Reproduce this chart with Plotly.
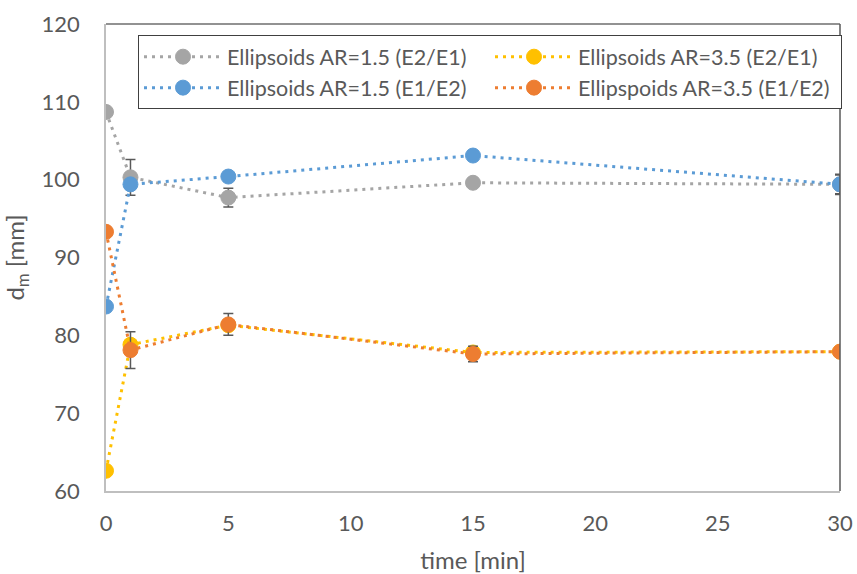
import plotly.graph_objects as go

# time points [min]
time_min = [0, 1, 5, 15, 30]

# mean diameter d_m [mm] per series
ar15_e2e1 = [108.7, 100.3, 97.7, 99.6, 99.4]
ar15_e1e2 = [83.7, 99.4, 100.4, 103.1, 99.4]
ar35_e2e1 = [62.6, 78.8, 81.3, 77.8, 77.9]
ar35_e1e2 = [93.3, 78.1, 81.4, 77.6, 77.9]

# standard deviations
err_ar15_e2e1 = [0.0, 2.3, 1.2, 0.4, 1.2]
err_ar15_e1e2 = [0.0, 0.5, 0.5, 0.5, 1.3]
err_ar35_e2e1 = [0.0, 0.5, 0.5, 0.5, 0.5]
err_ar35_e1e2 = [0.0, 2.35, 1.4, 1.0, 0.5]

names = [
    "Ellipsoids AR=1.5 (E2/E1)",
    "Ellipsoids AR=3.5 (E2/E1)",
    "Ellipsoids AR=1.5 (E1/E2)",
    "Ellipspoids AR=3.5 (E1/E2)",
]
series = [ar15_e2e1, ar35_e2e1, ar15_e1e2, ar35_e1e2]
errors = [err_ar15_e2e1, err_ar35_e2e1, err_ar15_e1e2, err_ar35_e1e2]
colors = ["#A5A5A5", "#FFC000", "#5B9BD5", "#ED7D31"]

FONT = "Lato, 'Open Sans', sans-serif"
TEXT = "#595959"

fig = go.Figure()
for name, ys, es, c in zip(names, series, errors, colors):
    fig.add_trace(go.Scatter(
        x=time_min, y=ys, name=name, mode="lines+markers",
        line=dict(color=c, width=3, dash="3px,5px"),
        marker=dict(color=c, size=15, symbol="circle",
                    line=dict(color=c, width=1)),
        error_y=dict(type="data", array=es, visible=True,
                     color="#595959", thickness=1.5, width=5),
    ))

fig.update_layout(
    width=857, height=574,
    margin=dict(l=106, r=17, t=24, b=83, autoexpand=False),
    paper_bgcolor="white", plot_bgcolor="white",
    font=dict(family=FONT, color=TEXT, size=22),
    showlegend=True,
    legend=dict(
        orientation="h", x=0.0436, y=0.976, xanchor="left", yanchor="top",
        bgcolor="white", bordercolor="#404040", borderwidth=1,
        font=dict(family=FONT, size=21.5, color=TEXT),
        entrywidth=258, entrywidthmode="pixels",
        tracegroupgap=0, itemwidth=78,
    ),
)

fig.update_xaxes(
    range=[0, 30], tickmode="linear", tick0=0, dtick=5,
    showgrid=False, zeroline=False, automargin=False,
    showline=True, linecolor="#BFBFBF", linewidth=1.5,
    ticks="", ticklabelstandoff=12,
    tickfont=dict(size=22, color=TEXT),
    title=dict(text="time [min]", font=dict(size=24, color=TEXT), standoff=24),
)
fig.update_yaxes(
    range=[60, 120], tickmode="linear", tick0=60, dtick=10,
    showgrid=False, zeroline=False, automargin=False,
    showline=True, linecolor="#BFBFBF", linewidth=1.5,
    ticks="", ticklabelstandoff=20,
    tickfont=dict(size=22, color=TEXT),
    title=dict(text="d<sub>m</sub> [mm]", font=dict(size=24, color=TEXT), standoff=10),
)

# dark frame on the top and right edges of the plot area
fig.add_shape(type="line", xref="paper", yref="paper", x0=0, x1=1, y0=1, y1=1,
              line=dict(color="#262626", width=1.2))
fig.add_shape(type="line", xref="paper", yref="paper", x0=1, x1=1, y0=0, y1=1,
              line=dict(color="#595959", width=1.5))

fig.write_html("out.html")
